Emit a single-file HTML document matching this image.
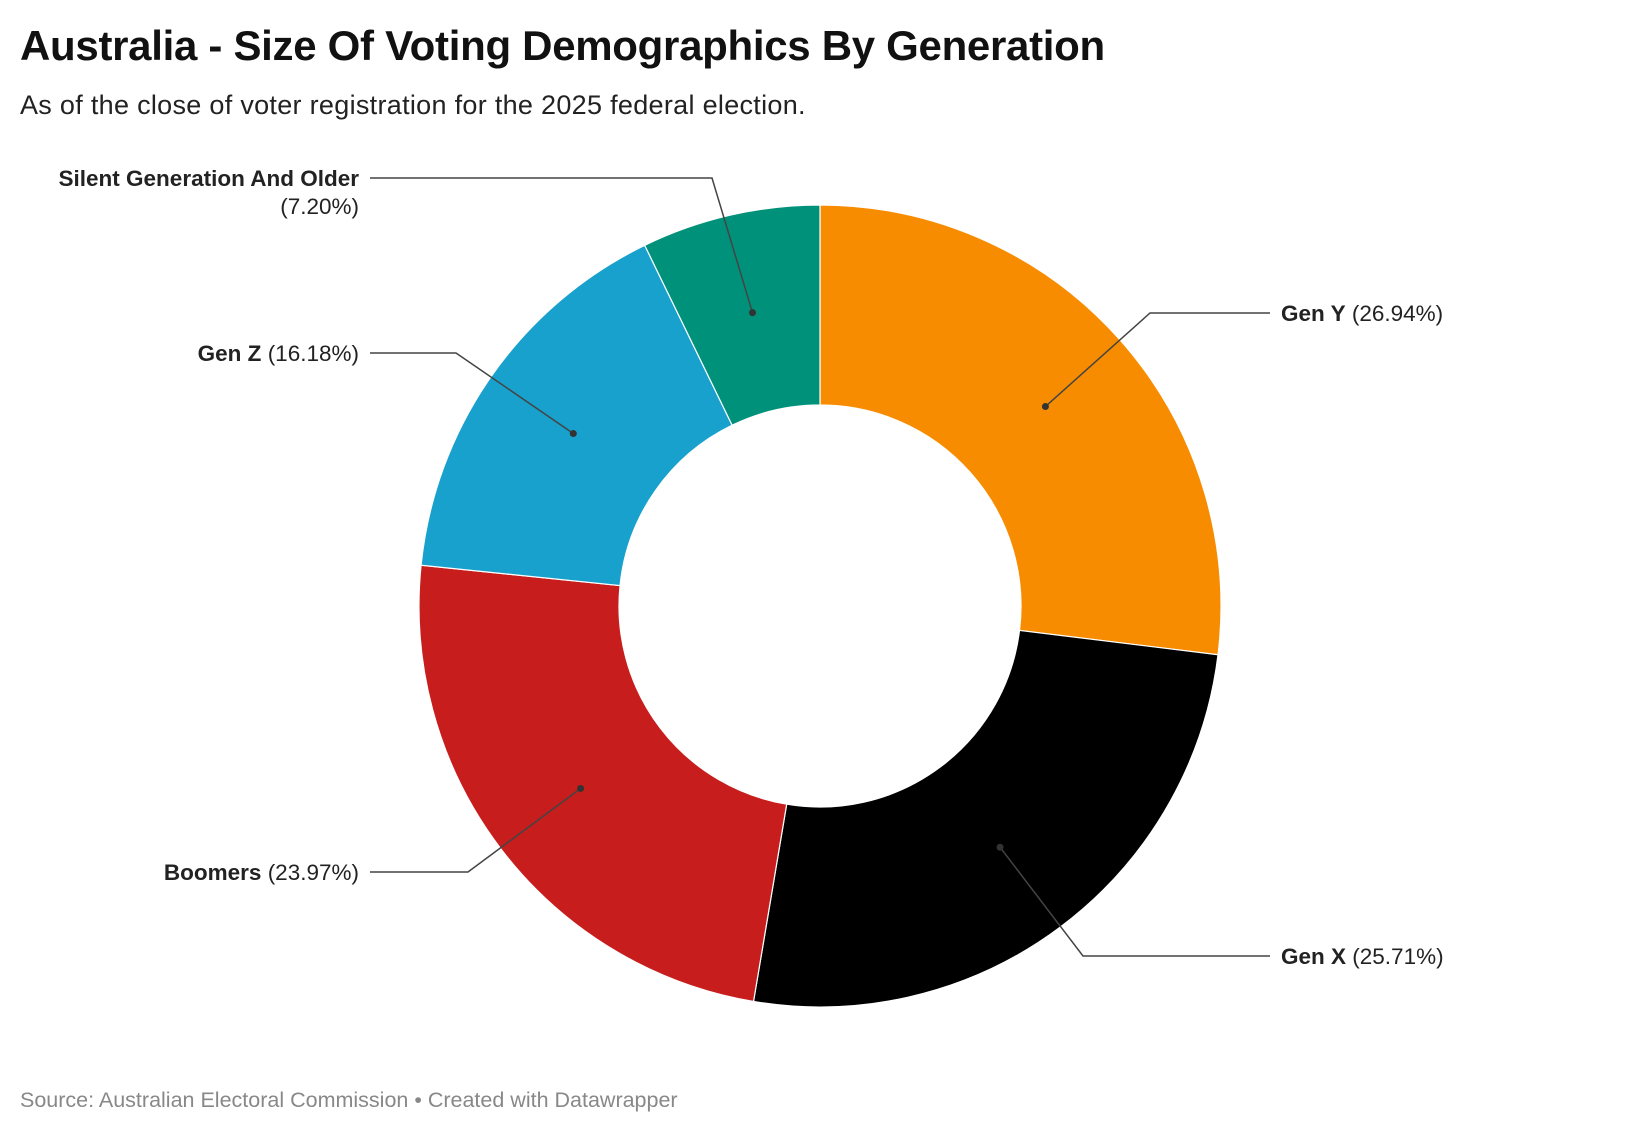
<!DOCTYPE html>
<html><head><meta charset="utf-8"><style>
body{margin:0;background:#fff;font-family:"Liberation Sans",sans-serif;}
#wrap{position:relative;width:1640px;height:1130px;overflow:hidden}
h1{position:absolute;left:20px;top:22px;margin:0;font-size:42px;font-weight:bold;color:#111;letter-spacing:-0.3px}
.sub{position:absolute;left:20px;top:90px;font-size:27px;color:#222;letter-spacing:0.3px}
.src{position:absolute;left:20px;top:1088px;font-size:21.5px;color:#888}
</style></head><body>
<div id="wrap">
<h1>Australia - Size Of Voting Demographics By Generation</h1>
<div class="sub">As of the close of voter registration for the 2025 federal election.</div>
<svg id="svg" width="1640" height="1130" style="position:absolute;left:0;top:0"></svg>
<div class="src">Source: Australian Electoral Commission • Created with Datawrapper</div>
</div>
<script>
const categories=["Gen Y","Gen X","Boomers","Gen Z","Silent Generation And Older"];
const values=[26.94,25.71,23.97,16.18,7.20];
const labels=["(26.94%)","(25.71%)","(23.97%)","(16.18%)","(7.20%)"];
const colors=["#f88c00","#000000","#c71d1d","#18a1cd","#00917a"];
const svg=document.getElementById('svg');
const NS="http://www.w3.org/2000/svg";
const cx=820,cy=606,R=401,r=201;
const total=values.reduce((a,b)=>a+b,0);
function pt(a,rad){return [cx+rad*Math.sin(a),cy-rad*Math.cos(a)];}
// label layout: [elbowX, labelY, side, textX]
const layout=[[1150,313,1,1281],[1083,956,1,1281],[468,872,-1,359],[456,353,-1,359],[712,178,-1,359]];
let acc=0;
values.forEach((v,i)=>{
  const a0=acc/total*2*Math.PI;acc+=v;const a1=acc/total*2*Math.PI;
  const large=(a1-a0)>Math.PI?1:0;
  const p0=pt(a0,R),p1=pt(a1,R),q1=pt(a1,r),q0=pt(a0,r);
  const p=document.createElementNS(NS,'path');
  p.setAttribute('d',`M${p0[0]},${p0[1]}A${R},${R} 0 ${large} 1 ${p1[0]},${p1[1]}L${q1[0]},${q1[1]}A${r},${r} 0 ${large} 0 ${q0[0]},${q0[1]}Z`);
  p.setAttribute('fill',colors[i]);p.setAttribute('stroke','#fff');p.setAttribute('stroke-width','1.2');
  
  
  svg.appendChild(p);
});
acc=0;
values.forEach((v,i)=>{
  const am=(acc+v/2)/total*2*Math.PI;acc+=v;
  const d=pt(am,(R+r)/2);
  const [ex,ly,side,tx]=layout[i];
  const endX=side>0?1270:370;
  const l=document.createElementNS(NS,'polyline');
  l.setAttribute('points',`${d[0]},${d[1]} ${ex},${ly} ${endX},${ly}`);
  l.setAttribute('fill','none');l.setAttribute('stroke','#444');l.setAttribute('stroke-width','1.5');
  
  
  svg.appendChild(l);
  const c=document.createElementNS(NS,'circle');
  c.setAttribute('cx',d[0]);c.setAttribute('cy',d[1]);c.setAttribute('r',3.5);c.setAttribute('fill','#333');
  
  
  svg.appendChild(c);
  const t=document.createElementNS(NS,'text');
  t.setAttribute('font-size','22.5');t.setAttribute('fill','#222');
  
  
  if(i===4){
    t.setAttribute('text-anchor','end');t.setAttribute('x',tx);t.setAttribute('y',ly+8);
    t.innerHTML=`<tspan font-weight="bold">${categories[i]}</tspan><tspan x="${tx}" dy="28">${labels[i]}</tspan>`;
  }else{
    t.setAttribute('text-anchor',side>0?'start':'end');t.setAttribute('x',tx);t.setAttribute('y',ly+8);
    t.innerHTML=`<tspan font-weight="bold">${categories[i]}</tspan> ${labels[i]}`;
  }
  svg.appendChild(t);
});
</script>
</body></html>
